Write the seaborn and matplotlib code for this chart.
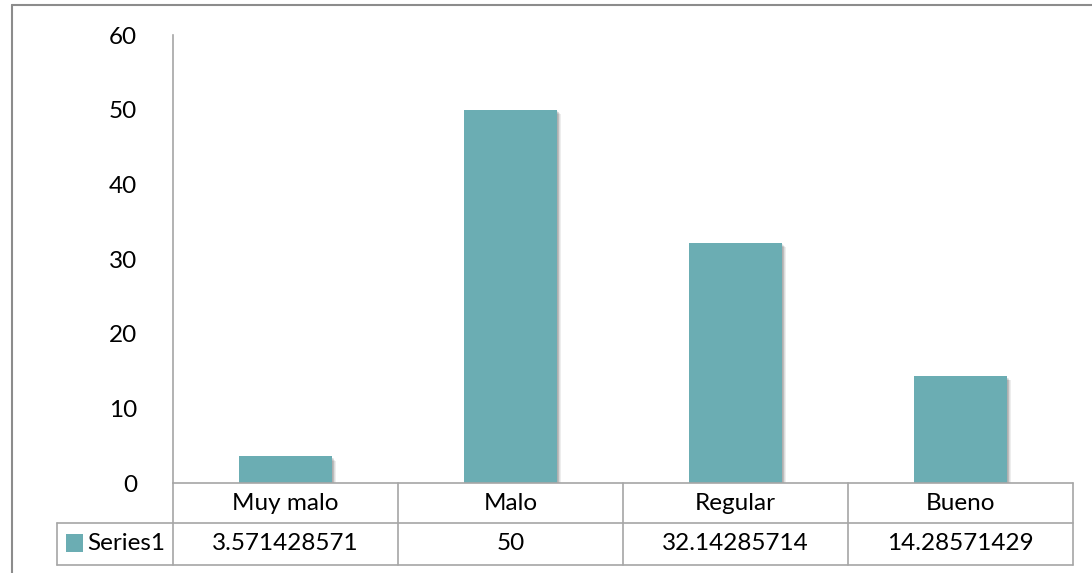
import matplotlib
matplotlib.use("Agg")
import matplotlib.pyplot as plt
import matplotlib.patheffects as pe
from matplotlib.lines import Line2D
from matplotlib.patches import Rectangle
import seaborn as sns
import pandas as pd

categories = ["Muy malo", "Malo", "Regular", "Bueno"]
series_name = "Series1"
values = [3.571428571, 50, 32.14285714, 14.28571429]
yticks = [0, 10, 20, 30, 40, 50, 60]

bar_color = "#6BADB3"
line_color = "#A6A6A6"
fs = 17.5

sns.set_theme(style="white")
plt.rcParams["font.family"] = ["Lato", "DejaVu Sans"]

W, H = 1092, 573
fig = plt.figure(figsize=(W / 100, H / 100), dpi=100)

def fx(px):
    return px / W

def fy(py):
    return 1 - py / H

x0, x1 = 173, 1073
y_top, y_zero = 35, 483
ax = fig.add_axes([fx(x0), fy(y_zero), fx(x1) - fx(x0), fy(y_top) - fy(y_zero)])

df = pd.DataFrame({"cat": categories, "val": values})
sns.barplot(data=df, x="cat", y="val", color=bar_color, width=0.41,
            saturation=1, ax=ax, edgecolor="none")
# soft drop shadow behind each bar
shadow = [pe.SimplePatchShadow(offset=(o, -o), alpha=0.07, shadow_rgbFace="#000000")
          for o in (0.5, 1.0, 1.5, 2.0, 2.5, 3.0)]
for p in ax.patches:
    p.set_path_effects(shadow + [pe.Normal()])

ax.set_ylim(0, 60)
ax.set_xlim(-0.5, len(categories) - 0.5)
ax.set_yticks(yticks)
ax.set_yticklabels([str(t) for t in yticks], fontsize=fs, color="#000000")
ax.set_xticks([])
ax.set_xlabel("")
ax.set_ylabel("")
ax.tick_params(axis="y", length=0, pad=26)
for s in ["top", "right", "bottom"]:
    ax.spines[s].set_visible(False)
ax.spines["left"].set_color(line_color)
ax.spines["left"].set_linewidth(1.2)

# Data table under the axis
def hline(y, xa, xb, color=line_color, lw=1.2):
    fig.add_artist(Line2D([fx(xa), fx(xb)], [fy(y), fy(y)], color=color, lw=lw))

def vline(x, ya, yb, color=line_color, lw=1.2):
    fig.add_artist(Line2D([fx(x), fx(x)], [fy(ya), fy(yb)], color=color, lw=lw))

row1_bot, row2_bot = 523, 565
label_left = 57
col_w = (x1 - x0) / len(categories)

hline(y_zero, x0, x1)
hline(row1_bot, label_left, x1)
hline(row2_bot, label_left, x1)
vline(x0, y_zero, row2_bot)
vline(label_left, row1_bot, row2_bot)
for i in range(1, len(categories) + 1):
    vline(x0 + i * col_w, y_zero, row2_bot)

for i, (c, v) in enumerate(zip(categories, values)):
    cx = x0 + (i + 0.5) * col_w
    fig.text(fx(cx), fy((y_zero + row1_bot) / 2), c, ha="center", va="center",
             fontsize=fs, color="#000000")
    fig.text(fx(cx), fy((row1_bot + row2_bot) / 2), "{:.10g}".format(v),
             ha="center", va="center", fontsize=fs, color="#000000")

# Legend key for the series row
fig.add_artist(Rectangle((fx(66), fy(552)), fx(17), fy(534) - fy(552),
                         transform=fig.transFigure, facecolor=bar_color,
                         edgecolor="none"))
fig.text(fx(87), fy((row1_bot + row2_bot) / 2), series_name, ha="left",
         va="center", fontsize=fs, color="#000000")

# Chart area border
fig.add_artist(Line2D([fx(12), fx(12)], [fy(5), 0], color="#8C8C8C", lw=1.5))
fig.add_artist(Line2D([fx(12), 1], [fy(5), fy(5)], color="#8C8C8C", lw=1.5))

fig.savefig("out.png", dpi=100)
